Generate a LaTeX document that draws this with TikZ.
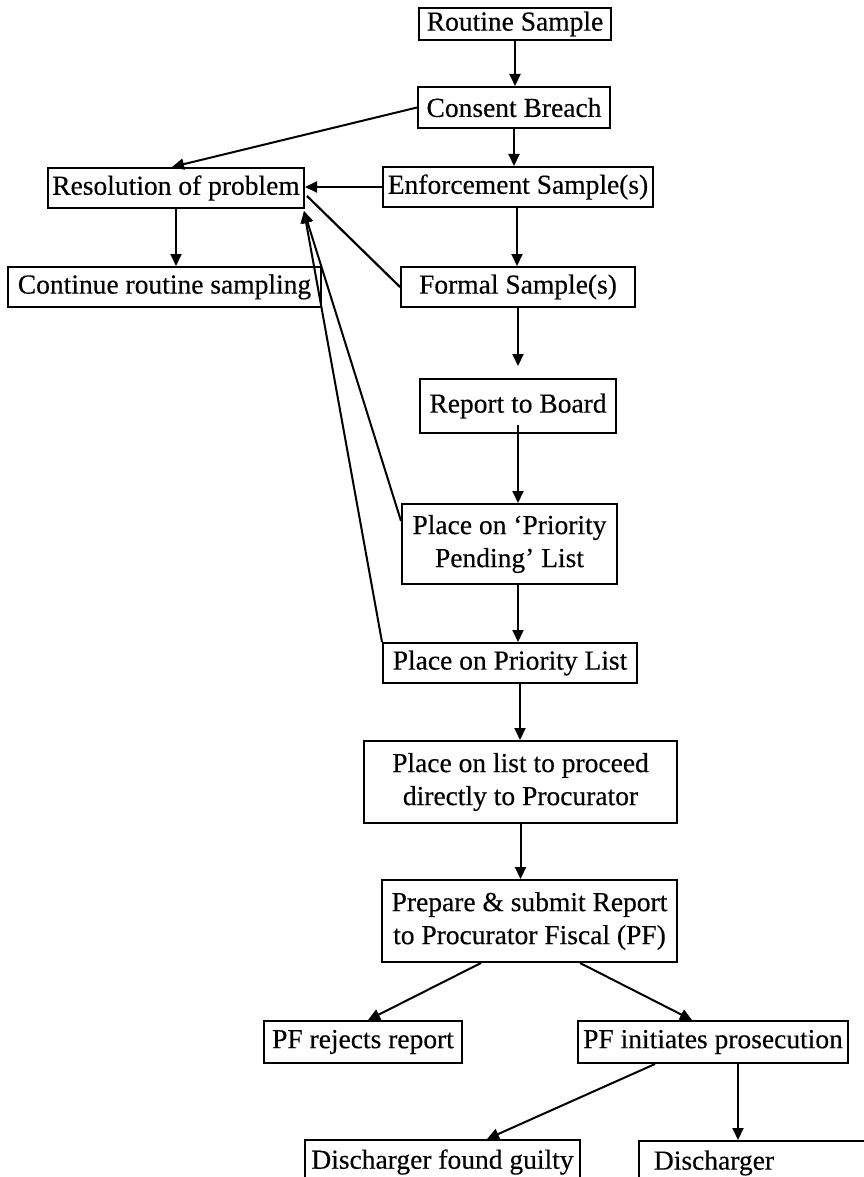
\documentclass[tikz,border=0pt]{standalone}
\usepackage{fontspec}
\setmainfont{Liberation Serif}[FakeBold=0.35]
\usetikzlibrary{arrows.meta,calc}
\begin{document}
\begin{tikzpicture}[x=1pt,y=-1pt,
  box/.style={draw, line width=2pt, inner sep=0pt, align=center,
              font=\fontsize{27.5}{33}\selectfont},
  arr/.style={-{Triangle[length=12pt,width=11pt]}, line width=2pt},
  link/.style={line width=2.2pt}]
\useasboundingbox (0,0) rectangle (864,1177);
\begin{scope}
\clip (0,0) rectangle (864,1177);

% main sequence
\node[box, minimum width=192pt, minimum height=32pt] (routine) at (515,24) {Routine Sample};
\node[box, minimum width=192pt, minimum height=41pt] (consent) at (514,107.5) {Consent Breach};
\node[box, minimum width=270pt, minimum height=40pt] (enforce) at (518,187) {Enforcement Sample(s)};
\node[box, minimum width=234pt, minimum height=40pt] (formal) at (518,287) {Formal Sample(s)};
\node[box, minimum width=196pt, minimum height=54pt] (report) at (518,406) {Report to Board};
\node[box, minimum width=215pt, minimum height=80pt] (pending) at (509.5,544) {Place on ‘Priority\\Pending’ List};
\node[box, minimum width=254pt, minimum height=40pt] (plist) at (510,663) {Place on Priority List};
\node[box, minimum width=313pt, minimum height=82pt] (proceed) at (520.5,782) {Place on list to proceed\\directly to Procurator};
\node[box, minimum width=295pt, minimum height=82pt] (prepare) at (529.5,921) {Prepare \& submit Report\\to Procurator Fiscal (PF)};

% resolution branch
\node[box, minimum width=256pt, minimum height=40pt] (resol) at (176,188) {Resolution of problem};
\node[box, minimum width=313pt, minimum height=40pt] (cont) at (164.5,287) {Continue routine sampling};

% outcomes
\node[box, minimum width=198pt, minimum height=42pt] (reject) at (363,1042) {PF rejects report};
\node[box, minimum width=270pt, minimum height=42pt] (initiate) at (713,1042) {PF initiates prosecution};
\node[box, minimum width=275pt, minimum height=44pt] (guilty) at (442.5,1162) {Discharger found guilty};
\node[box, anchor=north west, minimum height=44pt, text width=300pt, align=left] (disch) at (638,1140) {\makebox[150pt][c]{Discharger}};

% vertical flow
\draw[arr] (routine.south) -- (routine.south |- consent.north);
\draw[arr] (consent.south) -- (consent.south |- enforce.north);
\draw[arr] ($(enforce.south)+(-1,0)$) -- ($(enforce.south |- formal.north)+(-1,0)$);
\draw[arr, shorten >=12pt] (formal.south) -- (formal.south |- report.north);
\draw[arr, shorten <=-9pt] (report.south) -- (report.south |- pending.north);
\draw[arr] ($(pending.south)+(8.5,0)$) -- ($(pending.south |- plist.north)+(8.5,0)$);
\draw[arr] ($(plist.south)+(10,0)$) -- ($(plist.south |- proceed.north)+(10,0)$);
\draw[arr] (proceed.south) -- (proceed.south |- prepare.north);

% branches after the report
\draw[arr] ($(prepare.south)+(-48.5,0)$) -- ($(reject.north)+(5,0)$);
\draw[arr] ($(prepare.south)+(50.5,0)$) -- ($(initiate.north)+(-21,0)$);
\draw[arr] ($(initiate.south)+(-58,0)$) -- ($(guilty.north)+(44.5,0)$);
\coordinate (dtop) at ($(disch.north west)+(100,0)$);
\draw[arr] ($(initiate.south)+(25,0)$) -- (dtop);

% routes back to resolution
\draw[arr] (consent.west) -- ($(resol.north)+(-4,0)$);
\draw[arr] (resol.south) -- (resol.south |- cont.north);
\draw[arr] (enforce.west) -- (resol.east |- enforce.west);
\draw[link] (formal.west) -- ($(resol.east)+(2,8)$);
\coordinate (rtip) at ($(resol.south east)+(-1,2)$);
\draw[arr] ($(pending.north west)+(0,18)$) -- (rtip);
\draw[arr] (plist.north west) -- (rtip);
\end{scope}
\end{tikzpicture}
\end{document}
